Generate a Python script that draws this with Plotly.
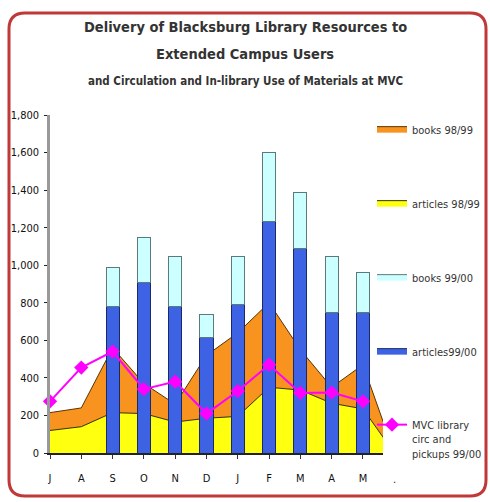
import plotly.graph_objects as go

# ---------------- data ----------------
months = ["J", "A", "S", "O", "N", "D", "J", "F", "M", "A", "M", "."]
articles_9899 = [120, 140, 215, 210, 165, 185, 195, 350, 335, 265, 235, 0]
books_9899 = [95, 100, 345, 160, 95, 335, 445, 450, 215, 85, 235, 0]
articles_9900 = [None, None, 780, 910, 780, 615, 790, 1235, 1090, 750, 750]
books_9900 = [None, None, 210, 240, 265, 120, 255, 365, 295, 295, 210]
mvc_9900 = [275, 455, 540, 340, 380, 210, 330, 470, 320, 322, 275]

y_ticks = [0, 200, 400, 600, 800, 1000, 1200, 1400, 1600, 1800]

# ---------------- layout geometry ----------------
W, H = 490, 502
L, R, T, B = 50, 107, 115, 49
PW, PH = W - L - R, H - T - B
X_MAX = 10.64
Y_MAX = 1800

FONT = "DejaVu Sans Condensed, Liberation Sans Narrow, Liberation Sans, Arial"

ORANGE = "#F7931E"
YELLOW = "#FFFF10"
LIGHT = "#CCFFFF"
BLUE = "#3D62E3"
PINK = "#FF00FF"

def px_x(p):
    return (p - L) / PW

def px_y(p):
    return (H - B - p) / PH

idx = list(range(len(months)))
bar_idx = list(range(len(articles_9900)))

fig = go.Figure()

# stacked areas (base axes, drawn beneath the bars)
fig.add_trace(go.Scatter(
    x=idx, y=articles_9899, name="articles 98/99", stackgroup="a",
    mode="lines", line=dict(color="#333300", width=1), fillcolor=YELLOW,
    legendgroup="g2", legendrank=2, hoverinfo="skip"))
fig.add_trace(go.Scatter(
    x=idx, y=books_9899, name="books 98/99", stackgroup="a",
    mode="lines", line=dict(color="#5a3300", width=1), fillcolor=ORANGE,
    legendgroup="g1", legendrank=1, hoverinfo="skip"))

# stacked bars on overlay axes (drawn above the areas)
fig.add_trace(go.Bar(
    x=bar_idx, y=articles_9900, name="articles99/00", width=0.42,
    marker=dict(color=BLUE, line=dict(color="#1b2a66", width=1)),
    xaxis="x2", yaxis="y2", showlegend=False))
fig.add_trace(go.Bar(
    x=bar_idx, y=books_9900, name="books 99/00", width=0.42,
    marker=dict(color=LIGHT, line=dict(color="#5d7a7a", width=1)),
    xaxis="x2", yaxis="y2", showlegend=False))

# legend proxies for bars (wide swatches, no data)
fig.add_trace(go.Scatter(
    x=[None], y=[None], name="books 99/00", mode="lines", fill="toself",
    fillcolor=LIGHT, line=dict(color="#5d7a7a", width=1),
    legendgroup="g3", legendrank=3))
fig.add_trace(go.Scatter(
    x=[None], y=[None], name="articles99/00", mode="lines", fill="toself",
    fillcolor=BLUE, line=dict(color="#1b2a66", width=1),
    legendgroup="g4", legendrank=4))

# MVC line
fig.add_trace(go.Scatter(
    x=bar_idx, y=mvc_9900, name="MVC library<br>circ and<br>pickups 99/00",
    mode="lines+markers", line=dict(color=PINK, width=2),
    marker=dict(symbol="diamond", size=11, color=PINK),
    xaxis="x2", yaxis="y2", cliponaxis=False,
    legendgroup="g5", legendrank=5))

annotations = [
    dict(text="<b>Delivery of Blacksburg Library Resources to</b>", x=px_x(245), y=px_y(27),
         font=dict(size=14.5, family=FONT, color="#333")),
    dict(text="<b>Extended Campus Users</b>", x=px_x(245), y=px_y(54),
         font=dict(size=14.5, family=FONT, color="#333")),
    dict(text="<b>and Circulation and In-library Use of Materials at MVC</b>", x=px_x(245), y=px_y(81),
         font=dict(size=11.5, family=FONT, color="#333")),
    dict(text=months[-1], x=(len(months) - 1) / X_MAX, y=px_y(479),
         font=dict(size=11, family=FONT, color="#222")),
]
for a in annotations:
    a.update(xref="paper", yref="paper", showarrow=False, xanchor="center", yanchor="middle")

# rounded red border (pixel coordinates relative to plot-area origin)
x0, x1 = 9 - L, 486 - L
y0, y1 = (H - B) - 496, (H - B) - 13
r = 16
border_path = (f"M{x0+r},{y1} L{x1-r},{y1} Q{x1},{y1} {x1},{y1-r} "
               f"L{x1},{y0+r} Q{x1},{y0} {x1-r},{y0} L{x0+r},{y0} "
               f"Q{x0},{y0} {x0},{y0+r} L{x0},{y1-r} Q{x0},{y1} {x0+r},{y1} Z")
shapes = [
    dict(type="path", path=border_path, xref="paper", yref="paper",
         xsizemode="pixel", ysizemode="pixel", xanchor=0, yanchor=0,
         line=dict(color="#C03838", width=3), layer="above"),
]

fig.update_layout(
    width=W, height=H,
    autosize=False,
    margin=dict(l=L, r=R, t=T, b=B, autoexpand=False),
    paper_bgcolor="white", plot_bgcolor="white",
    barmode="stack",
    showlegend=True,
    font=dict(family=FONT, size=11, color="#222"),
    xaxis=dict(range=[0, X_MAX], tickvals=bar_idx, ticktext=months[:len(bar_idx)],
               ticks="outside", ticklen=4, tickcolor="#333", showline=True,
               linecolor="#222", linewidth=1.5, showgrid=False, zeroline=False,
               ticklabelstandoff=10, tickfont=dict(size=11, family=FONT, color="#111")),
    yaxis=dict(range=[0, Y_MAX], tickvals=y_ticks, tickformat=",",
               ticks="outside", ticklen=3, tickcolor="#222", showline=True,
               linecolor="#999", linewidth=2.5, showgrid=False, zeroline=False,
               ticklabelstandoff=3, tickfont=dict(size=11, family=FONT, color="#111")),
    xaxis2=dict(range=[0, X_MAX], overlaying="x", visible=False),
    yaxis2=dict(range=[0, Y_MAX], overlaying="y", visible=False),
    legend=dict(x=px_x(372), xanchor="left", y=px_y(115), yanchor="top",
                traceorder="grouped", tracegroupgap=55, valign="top",
                itemwidth=30, maxheight=440, bgcolor="rgba(0,0,0,0)",
                font=dict(size=11, family=FONT, color="#333")),
    annotations=annotations,
    shapes=shapes,
)

post = ("document.body.style.margin='0';document.body.style.padding='0';"
        "document.body.style.overflow='hidden';"
        "var gd=document.getElementById('{plot_id}');"
        "Plotly.relayout(gd,{width:490,height:502});")

fig.write_html("out.html", config={"responsive": False, "displayModeBar": False},
               post_script=post)
